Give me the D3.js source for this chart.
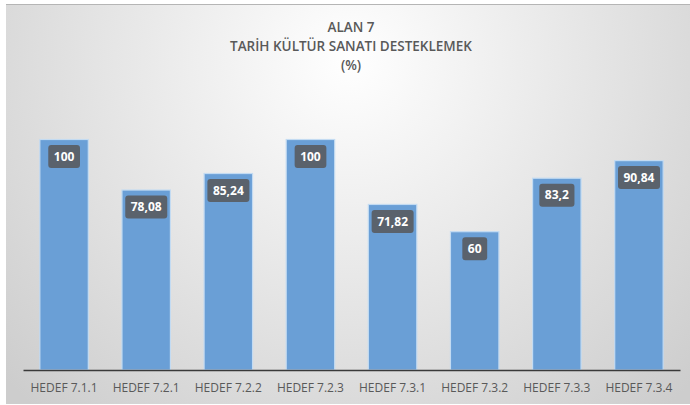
<!DOCTYPE html>
<html lang="tr">
<head>
<meta charset="UTF-8">
<title>ALAN 7</title>
<script src="https://d3js.org/d3.v7.min.js"></script>
<style>
  body { margin: 0; background: #fff; }
  svg { display: block; }
</style>
</head>
<body>
<script>
// data
const categories = ["HEDEF 7.1.1", "HEDEF 7.2.1", "HEDEF 7.2.2", "HEDEF 7.2.3",
                    "HEDEF 7.3.1", "HEDEF 7.3.2", "HEDEF 7.3.3", "HEDEF 7.3.4"];
const values = [100, 78.08, 85.24, 100, 71.82, 60, 83.2, 90.84];
const titleLines = ["ALAN 7", "TARİH KÜLTÜR SANATI DESTEKLEMEK", "(%)"];

const width = 690, height = 405;
const margin = { top: 0, right: 10, bottom: 35, left: 23 };
const baseY = 370;

const svg = d3.select("body").append("svg")
  .attr("width", width)
  .attr("height", height);

// background gradient like the office chart style
const defs = svg.append("defs");
const grad = defs.append("radialGradient")
  .attr("id", "bg")
  .attr("gradientUnits", "userSpaceOnUse")
  .attr("cx", 350).attr("cy", 60).attr("r", 470);
grad.append("stop").attr("offset", "0%").attr("stop-color", "#ffffff");
grad.append("stop").attr("offset", "100%").attr("stop-color", "#cdcdcd");

svg.append("rect")
  .attr("x", 6).attr("y", 4)
  .attr("width", width - 6).attr("height", height - 5)
  .attr("fill", "url(#bg)");
svg.append("line")
  .attr("x1", 6).attr("x2", width)
  .attr("y1", 4.5).attr("y2", 4.5)
  .attr("stroke", "#b5b5b5");

const x = d3.scaleBand()
  .domain(categories)
  .range([margin.left, width - margin.right])
  .paddingInner(0.41)
  .paddingOuter(0.205);

const y = d3.scaleLinear()
  .domain([0, 100])
  .range([baseY, 139.5]);

// title
svg.append("g")
  .selectAll("text")
  .data(titleLines)
  .join("text")
  .attr("x", 351)
  .attr("y", (d, i) => 32 + i * 19)
  .attr("text-anchor", "middle")
  .attr("font-family", "Open Sans, Noto Sans, sans-serif")
  .attr("font-size", 13.5)
  .attr("font-weight", 600)
  .attr("fill", "#595959")
  .text(d => d);

// bars
svg.append("g")
  .selectAll("rect")
  .data(values)
  .join("rect")
  .attr("x", (d, i) => x(categories[i]))
  .attr("y", d => y(d))
  .attr("width", x.bandwidth())
  .attr("height", d => baseY - y(d))
  .attr("fill", "#6a9fd6")
  .attr("stroke", "#c3dbf2")
  .attr("stroke-width", 1.2);

// axis
const axis = svg.append("g")
  .attr("transform", `translate(0,${baseY})`)
  .call(d3.axisBottom(x).tickSize(0).tickPadding(13).tickSizeOuter(0));
axis.select(".domain").attr("stroke", "#3a3a3a").attr("stroke-width", 1.5);
axis.selectAll("text")
  .attr("font-family", "Open Sans, Noto Sans, sans-serif")
  .attr("font-size", 12)
  .attr("fill", "#595959");

// value labels
const fmt = v => String(v).replace(".", ",");
const labels = svg.append("g")
  .selectAll("g")
  .data(values)
  .join("g")
  .attr("transform", (d, i) => `translate(${x(categories[i]) + x.bandwidth() / 2},${y(d) + 17})`);

labels.append("text")
  .attr("text-anchor", "middle")
  .attr("dy", "0.35em")
  .attr("font-family", "Open Sans, Noto Sans, sans-serif")
  .attr("font-size", 12)
  .attr("font-weight", 700)
  .attr("fill", "#ffffff")
  .text(fmt);

labels.each(function () {
  const g = d3.select(this);
  const bb = g.select("text").node().getBBox();
  g.insert("rect", "text")
    .attr("x", bb.x - 5.5)
    .attr("y", -11.5)
    .attr("width", bb.width + 11)
    .attr("height", 23)
    .attr("rx", 3)
    .attr("fill", "#5a626c");
});
</script>
</body>
</html>
